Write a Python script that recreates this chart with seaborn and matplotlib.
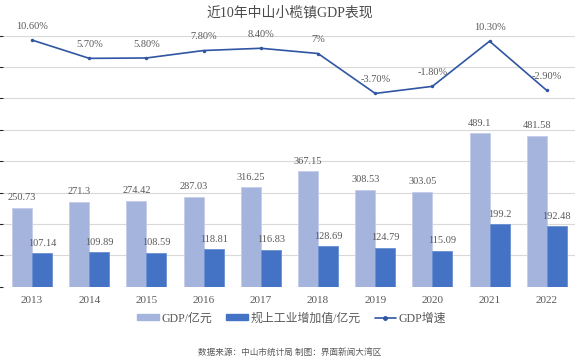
import numpy as np
import pandas as pd
import matplotlib
matplotlib.use("Agg")
import matplotlib.pyplot as plt
import seaborn as sns
from matplotlib.lines import Line2D
from matplotlib.patches import Patch

# 数据
years = ["2013", "2014", "2015", "2016", "2017", "2018", "2019", "2020", "2021", "2022"]
gdp = [250.73, 271.3, 274.42, 287.03, 316.25, 367.15, 308.53, 303.05, 489.1, 481.58]
industry = [107.14, 109.89, 108.59, 118.81, 116.83, 128.69, 124.79, 115.09, 199.2, 192.48]
growth = [10.6, 5.7, 5.8, 7.8, 8.4, 7.0, -3.7, -1.8, 10.3, -2.9]
growth_labels = ["10.60%", "5.70%", "5.80%", "7.80%", "8.40%", "7%",
                 "-3.70%", "-1.80%", "10.30%", "-2.90%"]
gdp_labels = ["250.73", "271.3", "274.42", "287.03", "316.25", "367.15",
              "308.53", "303.05", "489.1", "481.58"]
ind_labels = ["107.14", "109.89", "108.59", "118.81", "116.83", "128.69",
              "124.79", "115.09", "199.2", "192.48"]
series_names = ["GDP/亿元", "规上工业增加值/亿元"]
line_name = "GDP增速"

c_gdp = "#A5B4DC"
c_ind = "#4472C4"
c_line = "#2F55A3"
c_text = "#595959"
c_grid = "#D9D9D9"

sns.set_style("white")
plt.rcParams["font.family"] = ["Liberation Serif", "Noto Sans CJK SC", "DejaVu Sans"]

df = pd.DataFrame({
    "year": years * 2,
    "value": gdp + industry,
    "series": [series_names[0]] * len(years) + [series_names[1]] * len(years),
})

fig = plt.figure(figsize=(5.8, 3.61), dpi=100)
ax = fig.add_axes([0.006, 0.2058, 0.986, 0.6956])

sns.barplot(data=df, x="year", y="value", hue="series", ax=ax,
            palette=[c_gdp, c_ind], saturation=1, width=0.7, gap=0, legend=False,
            edgecolor="#C4CDE9", linewidth=0.6)
# 深色系列的描边
for bar in ax.containers[1]:
    bar.set_edgecolor("#6A8FD2")

ax.set_ylim(0, 800)
ax.set_yticks(np.arange(0, 801, 100))
ax.yaxis.grid(True, color=c_grid, linewidth=0.8)
ax.set_axisbelow(True)
ax.set_xlim(-0.5, len(years) - 0.5)
ax.set_xlabel("")
ax.set_ylabel("")
ax.tick_params(axis="y", left=False, labelleft=False)
ax.tick_params(axis="x", bottom=False, labelsize=8, labelcolor=c_text, pad=3)
for s in ax.spines.values():
    s.set_visible(False)

ax.bar_label(ax.containers[0], labels=gdp_labels, padding=4, fontsize=7.5, color=c_text)
ax.bar_label(ax.containers[1], labels=ind_labels, padding=4, fontsize=7.5, color=c_text)

# 增速折线
ax2 = ax.twinx()
pos = np.arange(len(years))
sns.lineplot(x=pos, y=growth, ax=ax2, color=c_line, linewidth=1.2,
             marker="o", markersize=2.5, markeredgewidth=0, legend=False)
ax2.set_ylim(-55.5, 11.8)
ax2.set_xlim(-0.5, len(years) - 0.5)
ax2.axis("off")
for x, y, t in zip(pos, growth, growth_labels):
    ax2.annotate(t, (x, y), xytext=(0, 6.5), textcoords="offset points",
                 ha="center", va="bottom", fontsize=7.5, color=c_text)

fig.suptitle("近10年中山小榄镇GDP表现", x=0.5, y=0.985, fontsize=10, color="#4A4A4A")

handles = [Patch(facecolor=c_gdp, edgecolor=c_gdp),
           Patch(facecolor=c_ind, edgecolor=c_ind),
           Line2D([], [], color=c_line, linewidth=1.2, marker="o", markersize=2.5)]
fig.legend(handles, series_names + [line_name], loc="center", bbox_to_anchor=(0.503, 0.118),
           ncol=3, frameon=False, fontsize=8.6, labelcolor=c_text,
           handlelength=1.8, handleheight=0.45, columnspacing=1.2, handletextpad=0.2)

fig.text(0.5, 0.025, "数据来源：中山市统计局 制图：界面新闻大湾区", ha="center", va="center",
         fontsize=6.2, color=c_text)

fig.savefig("out.png", dpi=100)
